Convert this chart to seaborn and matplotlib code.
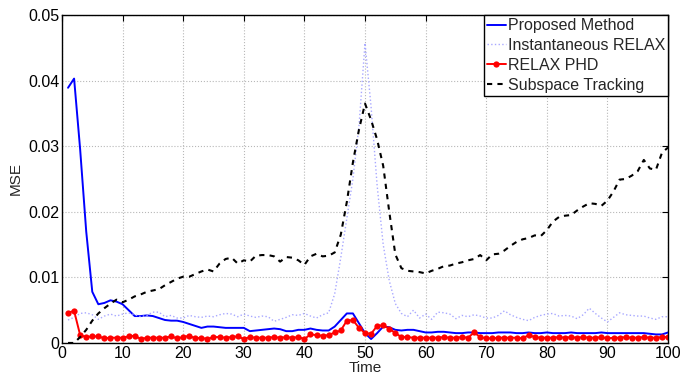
import numpy as np
import pandas as pd
import seaborn as sns
import matplotlib
matplotlib.use("Agg")
import matplotlib.pyplot as plt
from matplotlib.ticker import FuncFormatter

# time axis
time = list(range(1, 101))

# Proposed Method
proposed = [0.0389, 0.0403, 0.0295, 0.0170, 0.0078, 0.0059, 0.0061, 0.0065, 0.0063, 0.0059,
            0.0050, 0.0041, 0.0041, 0.0042, 0.0041, 0.0038, 0.0035, 0.0034, 0.0034, 0.0032,
            0.0029, 0.0026, 0.0023, 0.0025, 0.0025, 0.0024, 0.0023, 0.0023, 0.0023, 0.0023,
            0.0018, 0.0019, 0.0020, 0.0021, 0.0022, 0.0021, 0.0018, 0.0018, 0.0020, 0.0020,
            0.0022, 0.0020, 0.0019, 0.0019, 0.0025, 0.0035, 0.0045, 0.0045, 0.0030, 0.0015,
            0.0006, 0.0015, 0.0025, 0.0024, 0.0020, 0.0019, 0.0020, 0.0020, 0.0018, 0.0016,
            0.0016, 0.0017, 0.0017, 0.0016, 0.0015, 0.0015, 0.0016, 0.0016, 0.0015, 0.0015,
            0.0015, 0.0016, 0.0016, 0.0016, 0.0015, 0.0015, 0.0016, 0.0015, 0.0015, 0.0016,
            0.0015, 0.0015, 0.0015, 0.0016, 0.0015, 0.0015, 0.0015, 0.0015, 0.0016, 0.0015,
            0.0015, 0.0015, 0.0015, 0.0015, 0.0015, 0.0015, 0.0014, 0.0013, 0.0013, 0.0016]

# Instantaneous RELAX
inst_relax = [0.0035, 0.0039, 0.0045, 0.0046, 0.0043, 0.0036, 0.0041, 0.0044, 0.0041, 0.0044,
              0.0046, 0.0043, 0.0040, 0.0042, 0.0047, 0.0047, 0.0040, 0.0042, 0.0038, 0.0038,
              0.0042, 0.0040, 0.0039, 0.0041, 0.0040, 0.0043, 0.0045, 0.0044, 0.0040, 0.0044,
              0.0041, 0.0039, 0.0041, 0.0040, 0.0033, 0.0036, 0.0039, 0.0043, 0.0042, 0.0045,
              0.0041, 0.0038, 0.0043, 0.0046, 0.0075, 0.0130, 0.0190, 0.0250, 0.0330, 0.0457,
              0.0360, 0.0240, 0.0150, 0.0095, 0.0060, 0.0045, 0.0040, 0.0050, 0.0038, 0.0044,
              0.0036, 0.0047, 0.0046, 0.0044, 0.0037, 0.0042, 0.0040, 0.0043, 0.0041, 0.0038,
              0.0038, 0.0042, 0.0049, 0.0043, 0.0039, 0.0036, 0.0034, 0.0039, 0.0042, 0.0044,
              0.0045, 0.0041, 0.0042, 0.0041, 0.0037, 0.0043, 0.0053, 0.0045, 0.0038, 0.0032,
              0.0039, 0.0046, 0.0043, 0.0042, 0.0041, 0.0041, 0.0038, 0.0036, 0.0040, 0.0040]

# RELAX PHD
relax_phd = [0.0046, 0.0049, 0.0012, 0.0009, 0.0010, 0.0010, 0.0007, 0.0008, 0.0008, 0.0008,
             0.0010, 0.0011, 0.0006, 0.0008, 0.0008, 0.0008, 0.0008, 0.0010, 0.0007, 0.0009,
             0.0011, 0.0007, 0.0008, 0.0006, 0.0009, 0.0009, 0.0008, 0.0009, 0.0010, 0.0006,
             0.0009, 0.0008, 0.0008, 0.0008, 0.0009, 0.0008, 0.0009, 0.0008, 0.0009, 0.0006,
             0.0013, 0.0012, 0.0011, 0.0012, 0.0016, 0.0019, 0.0034, 0.0035, 0.0023, 0.0015,
             0.0014, 0.0026, 0.0027, 0.0022, 0.0015, 0.0009, 0.0009, 0.0008, 0.0008, 0.0008,
             0.0008, 0.0008, 0.0009, 0.0008, 0.0008, 0.0009, 0.0008, 0.0016, 0.0009, 0.0007,
             0.0007, 0.0008, 0.0008, 0.0008, 0.0008, 0.0007, 0.0012, 0.0009, 0.0008, 0.0008,
             0.0008, 0.0009, 0.0008, 0.0009, 0.0008, 0.0009, 0.0008, 0.0008, 0.0009, 0.0007,
             0.0008, 0.0008, 0.0009, 0.0008, 0.0008, 0.0009, 0.0008, 0.0008, 0.0009, 0.0009]

# Subspace Tracking
subspace = [0.0000, 0.0000, 0.0009, 0.0020, 0.0034, 0.0045, 0.0053, 0.0060, 0.0066, 0.0062,
            0.0066, 0.0071, 0.0074, 0.0078, 0.0080, 0.0082, 0.0088, 0.0093, 0.0098, 0.0101,
            0.0101, 0.0105, 0.0109, 0.0112, 0.0109, 0.0121, 0.0128, 0.0130, 0.0121, 0.0126,
            0.0124, 0.0133, 0.0134, 0.0134, 0.0132, 0.0124, 0.0131, 0.0130, 0.0126, 0.0119,
            0.0132, 0.0136, 0.0132, 0.0133, 0.0138, 0.0165, 0.0215, 0.0275, 0.0325, 0.0365,
            0.0340, 0.0310, 0.0270, 0.0200, 0.0135, 0.0114, 0.0110, 0.0109, 0.0108, 0.0106,
            0.0110, 0.0113, 0.0117, 0.0118, 0.0121, 0.0123, 0.0126, 0.0128, 0.0134, 0.0126,
            0.0135, 0.0136, 0.0141, 0.0148, 0.0154, 0.0158, 0.0160, 0.0164, 0.0163, 0.0172,
            0.0185, 0.0192, 0.0194, 0.0195, 0.0202, 0.0208, 0.0213, 0.0212, 0.0209, 0.0217,
            0.0231, 0.0249, 0.0250, 0.0255, 0.0262, 0.0279, 0.0266, 0.0264, 0.0290, 0.0298]

df = pd.DataFrame({"Time": time, "Proposed Method": proposed,
                   "Instantaneous RELAX": inst_relax, "RELAX PHD": relax_phd,
                   "Subspace Tracking": subspace})

sns.set_style("white")
plt.rcParams["font.family"] = ["Liberation Sans", "DejaVu Sans"]

fig = plt.figure(figsize=(6.81, 3.74), dpi=100)
ax = fig.add_axes([0.091, 0.083, 0.890, 0.877])

sns.lineplot(data=df, x="Time", y="Proposed Method", ax=ax, color="#0000ff",
             lw=1.4, label="Proposed Method")
sns.lineplot(data=df, x="Time", y="Instantaneous RELAX", ax=ax, color="#a8a8ff",
             lw=1.0, ls=":", label="Instantaneous RELAX")
sns.lineplot(data=df, x="Time", y="RELAX PHD", ax=ax, color="#ff0000", lw=1.4,
             marker="o", markersize=4.5, markeredgewidth=0, label="RELAX PHD")
sns.lineplot(data=df, x="Time", y="Subspace Tracking", ax=ax, color="black",
             lw=1.5, ls=(0, (2.5, 2.5)), label="Subspace Tracking")

ax.set_xlim(0, 100)
ax.set_ylim(0, 0.05)
ax.set_xticks(np.arange(0, 101, 10))
ax.set_yticks([0, 0.01, 0.02, 0.03, 0.04, 0.05])
ax.yaxis.set_major_formatter(FuncFormatter(lambda v, p: "0" if v == 0 else f"{v:.2f}"))
ax.grid(True, color="#b8b8b8", ls=":", lw=0.8)
ax.tick_params(direction="in", length=4, width=0.8, top=True, right=True,
               labelsize=11.5, pad=2, colors="black")
for s in ax.spines.values():
    s.set_color("black")
    s.set_linewidth(1.0)

ax.set_xlabel("Time", fontsize=11, labelpad=0)
ax.set_ylabel("MSE", fontsize=11, labelpad=4)

leg = ax.legend(loc="upper right", fontsize=11.5, frameon=True, fancybox=False,
                framealpha=1, edgecolor="black", borderaxespad=0, borderpad=0.2,
                handlelength=1.2, handletextpad=0.1, labelspacing=0.3)
leg.get_frame().set_linewidth(1.0)

fig.savefig("out.png", dpi=100)
